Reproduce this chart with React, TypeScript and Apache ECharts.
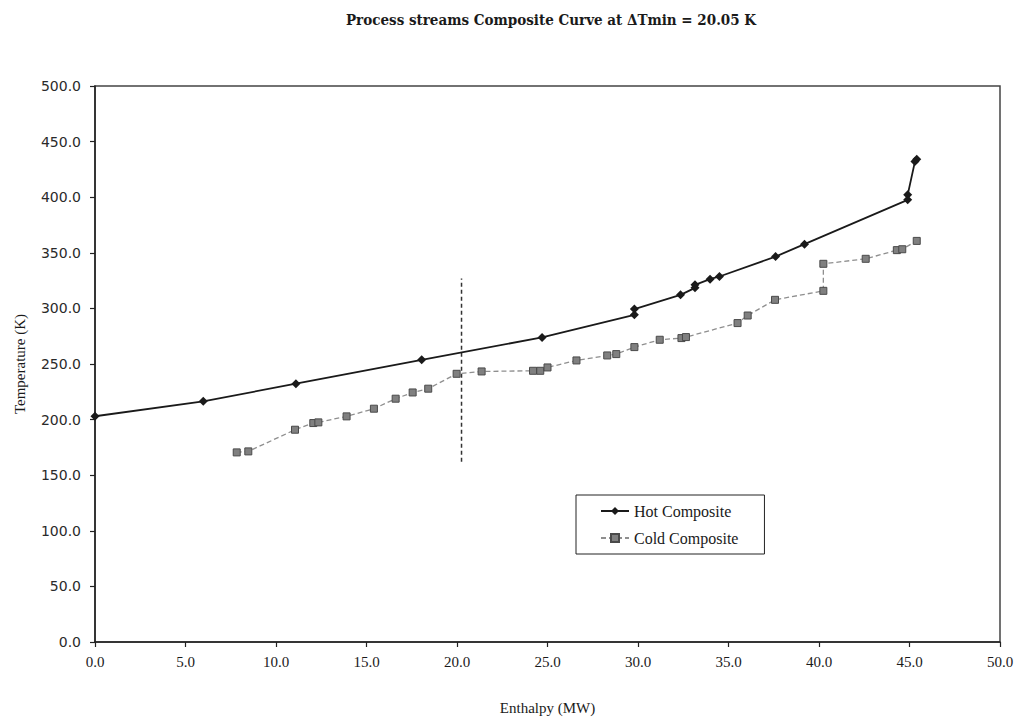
import React, { useEffect, useRef } from "react";
import * as echarts from "echarts";

// Hot composite curve: enthalpy (MW) vs temperature (K)
const hotEnthalpy = [0.0, 5.98, 11.1, 18.05, 24.7, 29.8, 29.8, 32.35, 33.15, 33.15, 33.98, 34.5, 37.6, 39.2, 44.9, 44.9, 45.3, 45.4];
const hotTemperature = [203, 216.4, 232.3, 253.8, 273.9, 294.2, 299.4, 312.2, 318.5, 321.2, 326.3, 328.7, 346.6, 357.8, 397.6, 402.1, 432, 434.1];

// Cold composite curve
const coldEnthalpy = [7.83, 8.47, 11.05, 12.06, 12.34, 13.9, 15.41, 16.61, 17.55, 18.41, 19.98, 21.36, 24.2, 24.6, 25.0, 26.6, 28.3, 28.8, 29.8, 31.2, 32.4, 32.65, 35.5, 36.06, 37.57, 40.24, 40.24, 42.58, 44.3, 44.6, 45.4];
const coldTemperature = [170.5, 171.4, 190.9, 196.9, 197.5, 202.9, 209.8, 218.8, 224.4, 227.8, 241.2, 243.3, 243.9, 243.9, 246.9, 253.2, 257.7, 258.9, 265.2, 271.8, 273.3, 274.2, 286.8, 293.6, 307.7, 315.8, 340.1, 344.6, 352.4, 353.2, 360.7];

// Pinch marker (vertical dashed line)
const pinchEnthalpy = [20.25, 20.25];
const pinchTemperature = [162, 327];

const xTicks = { min: 0, max: 50, interval: 5 };
const yTicks = { min: 0, max: 500, interval: 50 };

const titleText = "Process streams Composite Curve at \u0394Tmin = 20.05 K";

const zip = (xs: number[], ys: number[]) => xs.map((x, i) => [x, ys[i]]);

export default function App() {
  const ref = useRef<HTMLDivElement>(null);

  useEffect(() => {
    if (!ref.current) return;
    const chart = echarts.init(ref.current, undefined, { renderer: "svg" });
    chart.setOption({
      animation: false,
      backgroundColor: "#ffffff",
      title: {
        text: titleText,
        left: 546,
        top: 7,
        textAlign: "center",
        textStyle: {
          fontFamily: "DejaVu Serif Condensed",
          fontWeight: "bold",
          fontSize: 15,
          color: "#1a1a1a",
        },
      },
      grid: {
        left: 95,
        right: 20,
        top: 86,
        bottom: 77.5,
        show: true,
        borderColor: "#444",
        borderWidth: 1.5,
      },
      legend: {
        orient: "vertical",
        left: 576,
        top: 495,
        width: 187,
        data: ["Hot Composite", "Cold Composite"],
        borderColor: "#222",
        borderWidth: 1,
        padding: [8, 26, 8, 24],
        itemWidth: 28,
        itemHeight: 10,
        itemGap: 11,
        textStyle: {
          fontFamily: "Liberation Serif",
          fontSize: 16,
          color: "#1a1a1a",
        },
      },
      xAxis: {
        type: "value",
        min: xTicks.min,
        max: xTicks.max,
        interval: xTicks.interval,
        name: "Enthalpy (MW)",
        nameLocation: "middle",
        nameGap: 58,
        nameTextStyle: {
          fontFamily: "Liberation Serif",
          fontSize: 15,
          color: "#1a1a1a",
        },
        axisLine: { lineStyle: { color: "#222", width: 1.5 } },
        axisTick: { show: true, length: 5, lineStyle: { color: "#222", width: 1.2 } },
        axisLabel: {
          margin: 12,
          fontFamily: "Liberation Serif",
          fontSize: 15,
          color: "#1a1a1a",
          formatter: (v: number) => v.toFixed(1),
        },
        splitLine: { show: false },
      },
      yAxis: {
        type: "value",
        min: yTicks.min,
        max: yTicks.max,
        interval: yTicks.interval,
        name: "Temperature (K)",
        nameLocation: "middle",
        nameGap: 68,
        nameTextStyle: {
          fontFamily: "Liberation Serif",
          fontSize: 15,
          color: "#1a1a1a",
        },
        axisLine: { show: true, lineStyle: { color: "#222", width: 1.5 } },
        axisTick: { show: true, length: 5, lineStyle: { color: "#222", width: 1.2 } },
        axisLabel: {
          margin: 14,
          fontFamily: "DejaVu Sans",
          fontSize: 14,
          color: "#2a2a2a",
          formatter: (v: number) => v.toFixed(1),
        },
        splitLine: { show: false },
      },
      series: [
        {
          name: "Hot Composite",
          type: "line",
          data: zip(hotEnthalpy, hotTemperature),
          symbol: "diamond",
          symbolSize: 9,
          itemStyle: { color: "#1a1a1a" },
          lineStyle: { color: "#1a1a1a", width: 1.8 },
          z: 3,
        },
        {
          name: "Cold Composite",
          type: "line",
          data: zip(coldEnthalpy, coldTemperature),
          symbol: "rect",
          symbolSize: 7,
          itemStyle: { color: "#808080", borderColor: "#4a4a4a", borderWidth: 1 },
          lineStyle: { color: "#8f8f8f", width: 1.3, type: [5, 3] },
          z: 2,
        },
        {
          name: "Pinch",
          type: "line",
          data: zip(pinchEnthalpy, pinchTemperature),
          symbol: "none",
          lineStyle: { color: "#333", width: 1.5, type: [4, 3] },
          z: 1,
        },
      ],
    });
    return () => chart.dispose();
  }, []);

  return (
    <div
      ref={ref}
      style={{ position: "fixed", left: 0, top: 0, width: 1020, height: 720 }}
    />
  );
}
